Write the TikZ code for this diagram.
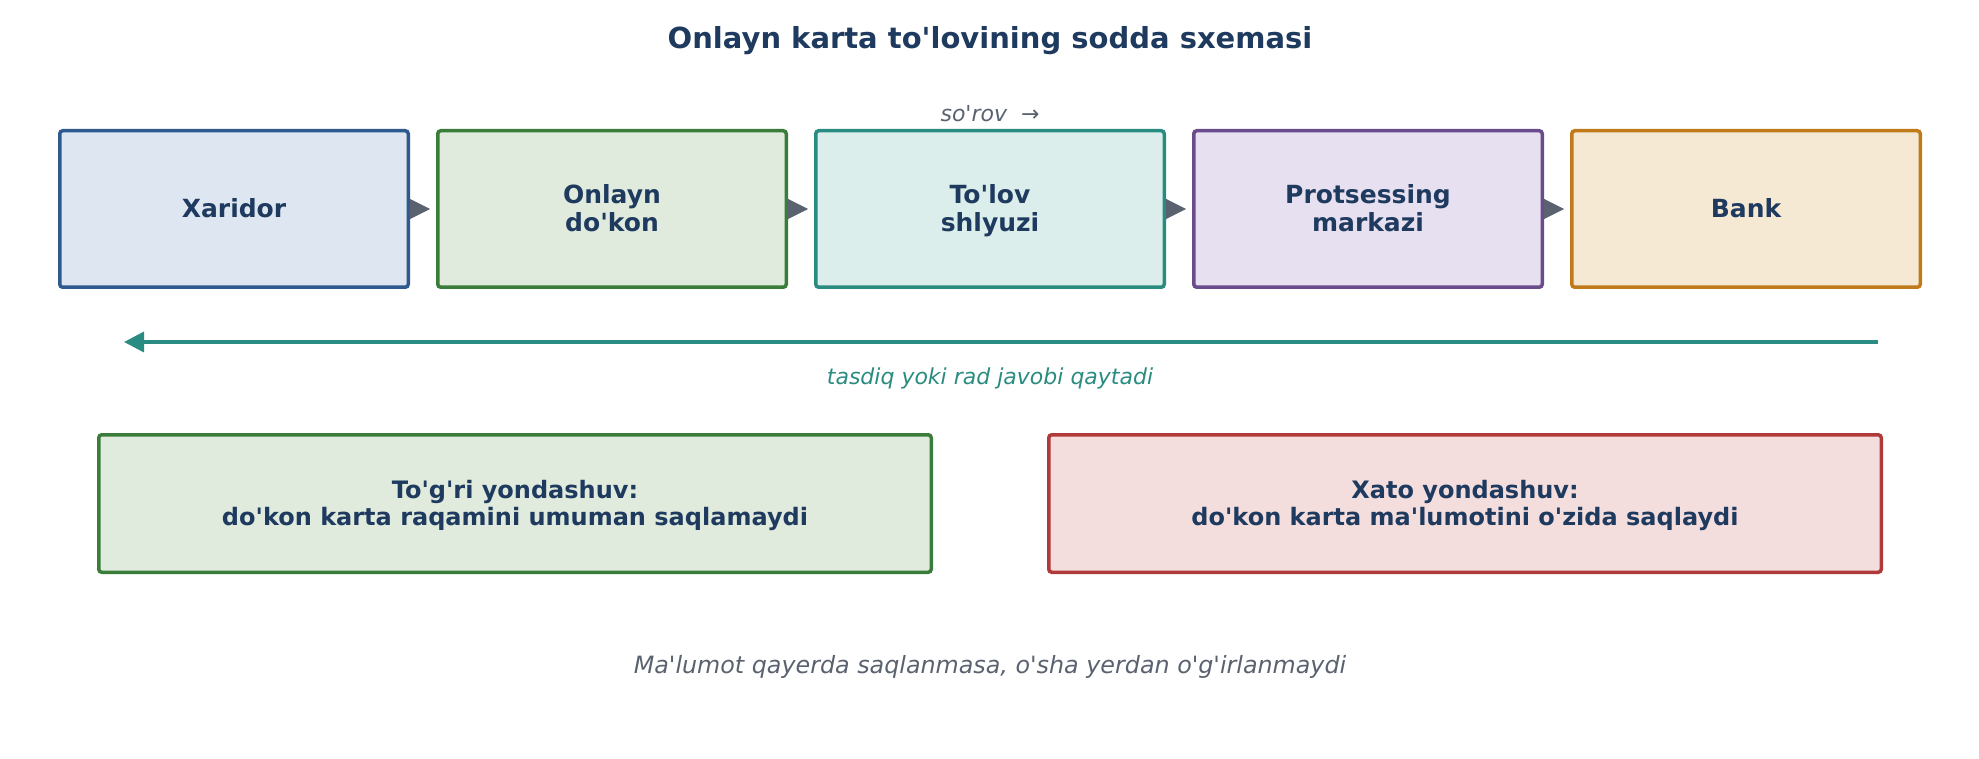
\documentclass[tikz,border=0pt]{standalone}
\usepackage{fontspec}
\setmainfont{DejaVu Sans}[Ligatures=TeXOff]
\usetikzlibrary{arrows.meta}
\definecolor{navy}{HTML}{1F3A5F}
\definecolor{grayt}{HTML}{5A6270}
\definecolor{teal1}{HTML}{2A8C80}
\definecolor{bluB}{HTML}{2E5A8E}\definecolor{bluF}{HTML}{DEE7F1}
\definecolor{grnB}{HTML}{3A7D3A}\definecolor{grnF}{HTML}{E0EBDD}
\definecolor{tealF}{HTML}{DCEEEB}
\definecolor{purB}{HTML}{6A4C8C}\definecolor{purF}{HTML}{E7E0F0}
\definecolor{orgB}{HTML}{C07A1A}\definecolor{orgF}{HTML}{F6E9D4}
\definecolor{redB}{HTML}{B03A3A}\definecolor{redF}{HTML}{F4DEDD}
\newcommand\hst{\rule{0pt}{0.93em}}
\newcommand\dst{\rule[-0.24em]{0pt}{0.24em}}
\begin{document}
\begin{tikzpicture}[x=1pt,y=-1pt,
  topbox/.style={draw, line width=3.5pt, rounded corners=3pt, minimum width=348.5pt, minimum height=156.5pt, inner sep=0pt, align=center, text=navy, font=\fontsize{25}{27.5}\selectfont\bfseries},
  botbox/.style={draw, line width=3.5pt, rounded corners=3pt, minimum width=832.5pt, minimum height=137.5pt, inner sep=0pt, align=center, text=navy, font=\fontsize{24}{27.5}\selectfont\bfseries},
  flow/.style={grayt, line width=1pt, -{Triangle[length=20pt,width=20pt]}, shorten >=6pt},
  back/.style={teal1, line width=3.5pt, -{Triangle[length=20pt,width=20pt]}}
]
\useasboundingbox (0,0) rectangle (1979,759);
\node[text=navy, font=\fontsize{29}{32}\selectfont\bfseries] (title) at (990,41) {Onlayn karta to'lovining sodda sxemasi};
\node[text=grayt, font=\fontsize{22}{24}\selectfont\itshape] (req) at (990,114) {so'rov \ →};
\node[topbox, fill=bluF, draw=bluB] (b1) at (234,209) {\hst Xaridor\dst};
\node[topbox, fill=grnF, draw=grnB] (b2) at (612,209) {\hst Onlayn\\do'kon\dst};
\node[topbox, fill=tealF, draw=teal1] (b3) at (990,209) {\hst To'lov\\shlyuzi\dst};
\node[topbox, fill=purF, draw=purB] (b4) at (1368,209) {\hst Protsessing\\markazi\dst};
\node[topbox, fill=orgF, draw=orgB] (b5) at (1746,209) {\hst Bank\dst};
\draw[flow] (b1.east) -- (b2.west);
\draw[flow] (b2.east) -- (b3.west);
\draw[flow] (b3.east) -- (b4.west);
\draw[flow] (b4.east) -- (b5.west);
\coordinate (rs) at (1878,342);
\coordinate (re) at (124,342);
\draw[back] (rs) -- (re);
\node[text=teal1, font=\fontsize{22}{24}\selectfont\itshape] (ans) at (990,378) {tasdiq yoki rad javobi qaytadi};
\node[botbox, fill=grnF, draw=grnB] (good) at (515,503.5) {\hst To'g'ri yondashuv:\\do'kon karta raqamini umuman saqlamaydi\dst};
\node[botbox, fill=redF, draw=redB] (bad) at (1465,503.5) {\hst Xato yondashuv:\\do'kon karta ma'lumotini o'zida saqlaydi\dst};
\node[text=grayt, font=\fontsize{23.8}{26}\selectfont\itshape] (note) at (990,667) {Ma'lumot qayerda saqlanmasa, o'sha yerdan o'g'irlanmaydi};
\end{tikzpicture}
\end{document}
